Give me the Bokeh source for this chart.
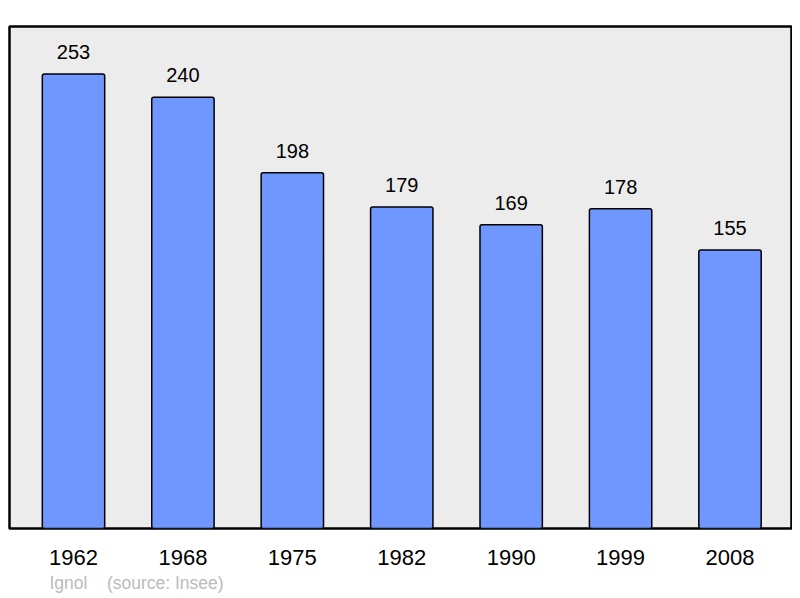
from bokeh.plotting import figure
from bokeh.models import ColumnDataSource, FixedTicker, Title, Range1d
from bokeh.core.properties import value
from bokeh.embed import file_html
from bokeh.resources import INLINE

years = ["1962", "1968", "1975", "1982", "1990", "1999", "2008"]
population = [253, 240, 198, 179, 169, 178, 155]
author_text = "Ignol"
source_text = "(source: Insee)"

xs = list(range(len(years)))
src = ColumnDataSource(dict(x=xs, top=population, label=[str(v) for v in population]))

p = figure(width=792, height=598, output_backend="svg", toolbar_location=None,
           x_range=Range1d(-0.585, 6.562), y_range=Range1d(0, 279.4),
           y_axis_location=None,
           min_border_left=9, min_border_right=1, min_border_top=26, min_border_bottom=70)

p.background_fill_color = "#ECECEC"
p.border_fill_color = "white"
p.outline_line_color = "black"
p.outline_line_width = 2.5
p.xgrid.visible = False
p.ygrid.visible = False

p.vbar(x="x", top="top", bottom=0, width=0.57, source=src,
       fill_color="#7096FF", line_color="black", line_width=1.5, border_radius=2)

p.text(x="x", y="top", text="label", source=src, text_align="center",
       text_baseline="alphabetic", y_offset=-22, text_font=value("Liberation Sans"),
       text_font_size="20px", text_color="black")

ax = p.xaxis[0]
ax.ticker = FixedTicker(ticks=xs)
ax.major_label_overrides = {i: y for i, y in zip(xs, years)}
ax.axis_line_color = None
ax.major_tick_line_color = None
ax.major_tick_out = 0
ax.major_tick_in = 0
ax.minor_tick_line_color = None
ax.major_label_standoff = 21
ax.major_label_text_font = "Liberation Sans"
ax.major_label_text_font_size = "22px"
ax.major_label_text_color = "black"

credit = author_text + "\u00a0\u00a0\u00a0\u00a0" + source_text
p.add_layout(Title(text=credit, align="left", offset=40, standoff=7,
                   text_font="Liberation Sans", text_font_size="17.5px",
                   text_font_style="normal", text_color="#BBBBBB"), "below")

open("out.html", "w").write(file_html(p, INLINE))
